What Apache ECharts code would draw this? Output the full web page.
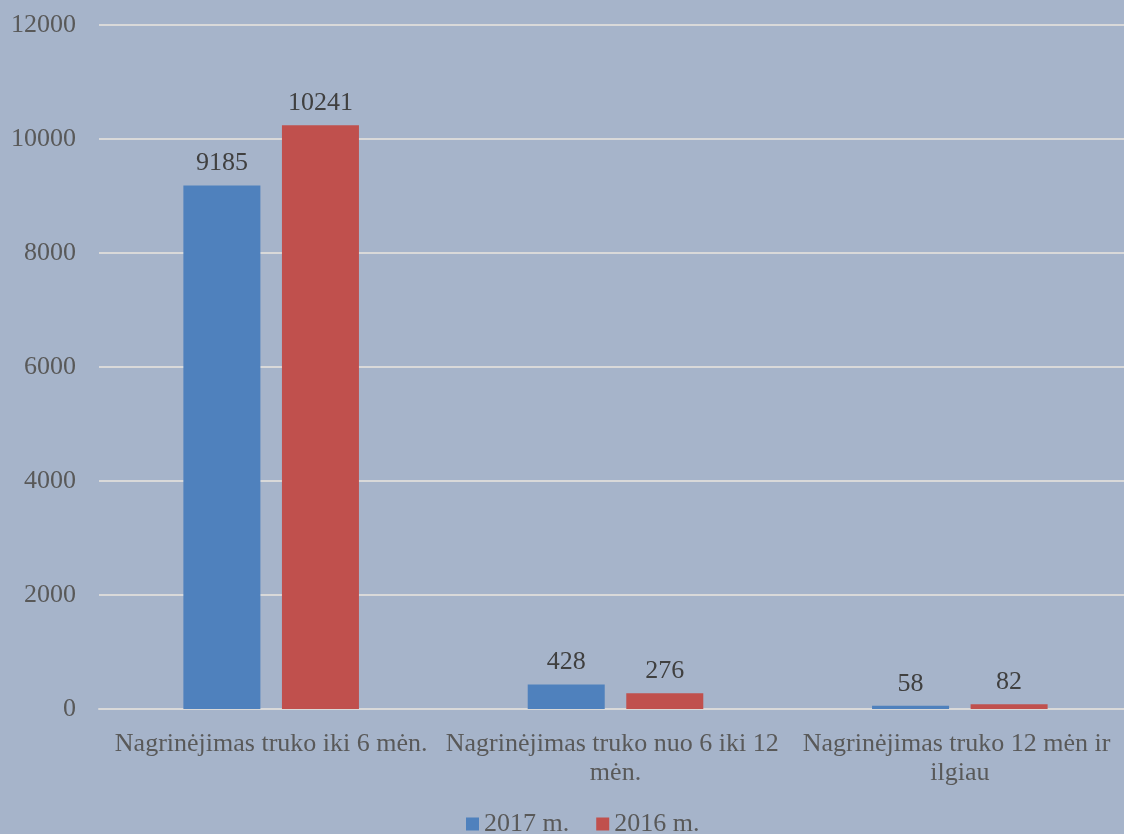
<!DOCTYPE html>
<html>
<head>
<meta charset="utf-8">
<script src="https://cdn.jsdelivr.net/npm/echarts@6/dist/echarts.min.js"></script>
<style>
  html, body { margin: 0; padding: 0; background: #A6B4CA; }
  #chart { width: 1124px; height: 834px; }
</style>
</head>
<body>
<div id="chart"></div>
<script>
  // duomenys
  const categories = [
    'Nagrinėjimas truko iki 6 mėn.',
    'Nagrinėjimas truko nuo 6 iki 12 mėn.',
    'Nagrinėjimas truko 12 mėn ir ilgiau'
  ];
  const seriesNames = ['2017 m.', '2016 m.'];
  const values2017 = [9185, 428, 58];
  const values2016 = [10241, 276, 82];

  const chart = echarts.init(document.getElementById('chart'));
  const font = '"Liberation Serif", "DejaVu Serif", serif';

  const option = {
    backgroundColor: '#A6B4CA',
    textStyle: { fontFamily: font },
    grid: { left: 99, right: -8, top: 25, bottom: 125, outerBoundsMode: 'none' },
    legend: {
      data: seriesNames,
      bottom: -8,
      left: 461,
      itemWidth: 13,
      itemHeight: 13,
      itemGap: 27,
      icon: 'rect',
      textStyle: { fontFamily: font, fontSize: 26, color: '#595959' }
    },
    xAxis: {
      type: 'category',
      data: categories,
      axisLine: { show: true, lineStyle: { color: '#D9D9D9', width: 2 } },
      axisTick: { show: false },
      axisLabel: {
        fontFamily: font,
        fontSize: 26,
        color: '#595959',
        margin: 21,
        width: 380,
        overflow: 'break',
        lineHeight: 29,
        interval: 0,
        hideOverlap: false
      }
    },
    yAxis: {
      type: 'value',
      min: 0,
      max: 12000,
      interval: 2000,
      axisLine: { show: false },
      axisTick: { show: false },
      splitLine: { lineStyle: { color: '#D9D9D9', width: 2 } },
      axisLabel: {
        fontFamily: font,
        fontSize: 26,
        color: '#595959',
        margin: 23,
        formatter: v => String(v)
      }
    },
    series: [
      {
        name: seriesNames[0],
        type: 'bar',
        data: values2017,
        barWidth: 77,
        barGap: '28%',
        itemStyle: { color: '#4F81BD' },
        label: {
          show: true,
          position: 'top',
          distance: 9,
          fontFamily: font,
          fontSize: 26,
          color: '#404040'
        }
      },
      {
        name: seriesNames[1],
        type: 'bar',
        data: values2016,
        barWidth: 77,
        itemStyle: { color: '#C0504D' },
        label: {
          show: true,
          position: 'top',
          distance: 9,
          fontFamily: font,
          fontSize: 26,
          color: '#404040'
        }
      }
    ]
  };
  chart.setOption(option);
</script>
</body>
</html>
